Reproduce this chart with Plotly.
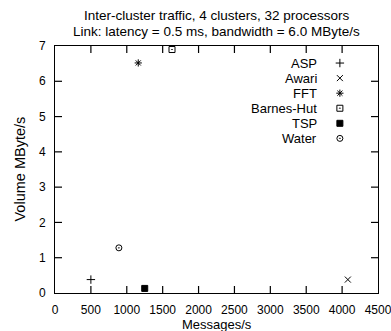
import plotly.graph_objects as go

names = ["ASP", "Awari", "FFT", "Barnes-Hut", "TSP", "Water"]
msgs = [500, 4080, 1160, 1630, 1250, 890]
volume = [0.38, 0.38, 6.52, 6.9, 0.13, 1.28]
symbols = ["cross-thin-open", "x-thin-open", "asterisk-open", "square-open-dot", "square", "circle-open-dot"]
x_ticks = [0, 500, 1000, 1500, 2000, 2500, 3000, 3500, 4000, 4500]
y_ticks = [0, 1, 2, 3, 4, 5, 6, 7]
X_MAX, Y_MAX = 4500, 7

FONT = "Liberation Sans, Arial, sans-serif"
NARROW = "Liberation Sans Narrow, Arial Narrow, Liberation Sans, sans-serif"
W, H = 391, 331
ML, MR, MT, MB = 55, 13, 46, 38
TICK_LEN = 7
fig = go.Figure()

# inward tick marks on all four sides (gnuplot style), built from the tick lists
dx = TICK_LEN / (W - ML - MR) * X_MAX
dy = TICK_LEN / (H - MT - MB) * Y_MAX
tx, ty = [], []
for xv in x_ticks[1:-1]:
    tx += [xv, xv, None, xv, xv, None]
    ty += [0, dy, None, Y_MAX, Y_MAX - dy, None]
for yv in y_ticks[1:-1]:
    tx += [0, dx, None, X_MAX, X_MAX - dx, None]
    ty += [yv, yv, None, yv, yv, None]
fig.add_trace(go.Scatter(x=tx, y=ty, mode="lines", showlegend=False, hoverinfo="skip",
                         line=dict(color="black", width=1.2), cliponaxis=False))

for n, x, y, s in zip(names, msgs, volume, symbols):
    fig.add_trace(go.Scatter(
        x=[x], y=[y], mode="markers", name=n, showlegend=False,
        marker=dict(symbol=s, size=6, color="black", line=dict(color="black", width=1)),
        cliponaxis=False))

# legend (right-aligned text, symbol on the right), placed in plot fractions
leg_frac_y = [0.931, 0.870, 0.809, 0.748, 0.687, 0.626]
fig.add_trace(go.Scatter(
    x=[0.882 * X_MAX] * len(names), y=[f * Y_MAX for f in leg_frac_y],
    mode="markers", showlegend=False, hoverinfo="skip", cliponaxis=False,
    marker=dict(symbol=symbols, size=6, color="black", line=dict(color="black", width=1))))
for n, ly in zip(names, leg_frac_y):
    fig.add_annotation(x=0.817, y=ly, xref="paper", yref="paper", text=n, showarrow=False,
                       xanchor="right", yanchor="middle",
                       font=dict(family=FONT, size=13, color="#000000"))

# titles
fig.add_annotation(x=0.5, y=1, xref="paper", yref="paper", yshift=21,
                   text="Inter-cluster traffic, 4 clusters, 32 processors",
                   showarrow=False, xanchor="center", yanchor="bottom",
                   font=dict(family=FONT, size=13.5, color="black"))
fig.add_annotation(x=0.5, y=1, xref="paper", yref="paper", yshift=5,
                   text="Link: latency = 0.5 ms, bandwidth = 6.0 MByte/s",
                   showarrow=False, xanchor="center", yanchor="bottom",
                   font=dict(family=FONT, size=13.5, color="black"))
fig.add_annotation(x=0.5, y=0, xref="paper", yref="paper", yshift=-22,
                   text="Messages/s", showarrow=False, xanchor="center", yanchor="top",
                   font=dict(family=FONT, size=13, color="black"))
fig.add_annotation(x=0, y=0.5, xref="paper", yref="paper", xshift=-36,
                   text="Volume MByte/s", showarrow=False, textangle=-90,
                   xanchor="center", yanchor="middle",
                   font=dict(family=FONT, size=14.5, color="black"))

axis_common = dict(showgrid=False, zeroline=False, showline=True, linecolor="black",
                   linewidth=1, mirror=True, ticks="", automargin=False,
                   ticklabeloverflow="allow",
                   tickfont=dict(family=NARROW, size=12, color="black"))

fig.update_layout(
    template="none",
    width=W, height=H,
    margin=dict(l=ML, r=MR, t=MT, b=MB),
    paper_bgcolor="white", plot_bgcolor="white",
    font=dict(family=FONT, size=12, color="black"),
    xaxis=dict(range=[0, X_MAX], tickmode="array", tickvals=x_ticks, ticklabelstandoff=6, **axis_common),
    yaxis=dict(range=[0, Y_MAX], tickmode="array", tickvals=y_ticks, ticklabelstandoff=6, **axis_common),
)

fig.write_html("out.html", config={"displayModeBar": False},
               post_script="document.body.style.margin='0';")
